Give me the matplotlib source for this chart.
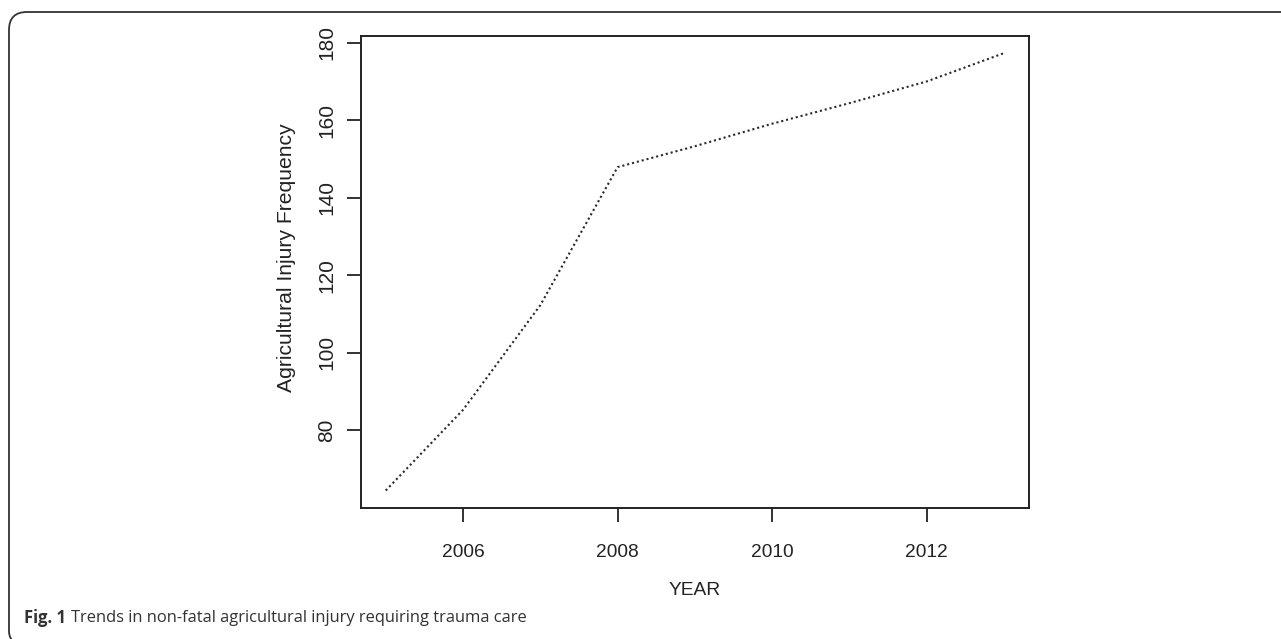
import matplotlib
matplotlib.use("Agg")
import matplotlib.pyplot as plt
from matplotlib.path import Path
from matplotlib.patches import PathPatch

# yearly agricultural injury frequency
years = [2005, 2006, 2007, 2008, 2009, 2010, 2011, 2012, 2013]
freq = [64.5, 85.3, 112.3, 147.9, 153.3, 159.1, 164.4, 170.0, 177.3]
xticks = [2006, 2008, 2010, 2012]
yticks = [80, 100, 120, 140, 160, 180]

plt.rcParams['font.family'] = ['Liberation Sans', 'DejaVu Sans']

W, H = 1281, 639
fig = plt.figure(figsize=(W / 100, H / 100), dpi=100)

# outer frame: top and left edges with rounded corner
verts = [(W + 5, H - 12), (27, H - 12), (9, H - 12), (9, H - 30),
         (9, 8), (9, 2), (12, -1)]
codes = [Path.MOVETO, Path.LINETO, Path.CURVE3, Path.CURVE3,
         Path.LINETO, Path.CURVE3, Path.CURVE3]
frame = PathPatch(Path(verts, codes), facecolor='none', edgecolor='#333333',
                  lw=1.3, transform=None)
fig.patches.append(frame)

ax = fig.add_axes([361 / W, 1 - 508 / H, (1028.7 - 361) / W, (508 - 35.7) / H])
ax.plot(years, freq, color='#2a2a2a', lw=1.5, linestyle=(0, (1, 1.4)))

ax.set_xlim(2004.68, 2013.32)
ax.set_ylim(60.0, 181.8)
ax.set_xticks(xticks)
ax.set_yticks(yticks)
ax.set_yticklabels([str(v) for v in yticks], rotation=90, va='center')
ax.tick_params(axis='both', direction='out', length=10, width=1.3,
               color='#222222', labelcolor='#222222')
ax.tick_params(axis='x', pad=16, labelsize=13.8)
ax.tick_params(axis='y', pad=8, labelsize=15)
for s in ax.spines.values():
    s.set_linewidth(1.4)
    s.set_color('#222222')

ax.set_xlabel('YEAR', fontsize=13.8, color='#222222')
ax.xaxis.set_label_coords(0.5, -0.156)
ax.set_ylabel('Agricultural Injury Frequency', fontsize=15.2, color='#222222')
ax.yaxis.set_label_coords(-0.097, 0.531)

fig.text(24 / W, 1 - 618 / H, 'Fig. 1', fontsize=11.9, fontweight='bold',
         family='Open Sans', color='#333333', va='center')
fig.text(71 / W, 1 - 618 / H,
         'Trends in non-fatal agricultural injury requiring trauma care',
         fontsize=11.9, family='Open Sans', color='#333333', va='center')

fig.savefig('out.png', dpi=100)
